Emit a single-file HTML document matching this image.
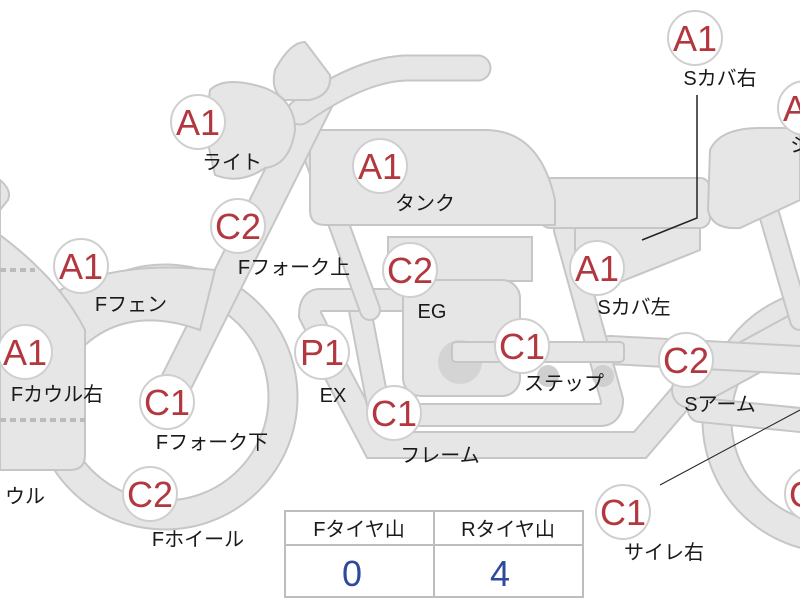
<!DOCTYPE html>
<html><head><meta charset="utf-8"><style>
body{margin:0;background:#fff;}
svg{display:block;font-family:"Liberation Sans","Noto Sans CJK JP",sans-serif;}
.p{fill:#e6e6e6;stroke:#c6c6c6;stroke-width:2;}
.t{stroke:#c6c6c6;stroke-linecap:round;fill:none;}
.ti{stroke:#e6e6e6;stroke-linecap:round;fill:none;}
.c{fill:#fff;stroke:#cfcfcf;stroke-width:2;}
.ct{fill:#b3373f;font-size:36px;text-anchor:middle;}
.l{fill:#1a1a1a;font-size:20px;text-anchor:middle;}
</style></head><body>
<svg width="800" height="600" viewBox="0 0 800 600">
<circle cx="165" cy="397" r="118" fill="none" stroke="#c6c6c6" stroke-width="31"/>
<circle cx="165" cy="397" r="118" fill="none" stroke="#e6e6e6" stroke-width="27"/>
<circle cx="835" cy="420" r="118" fill="none" stroke="#c6c6c6" stroke-width="31"/>
<circle cx="835" cy="420" r="118" fill="none" stroke="#e6e6e6" stroke-width="27"/>
<g>
<path class="t" stroke-width="28" d="M330 360 L375 445 L640 445 L700 375"/>
<path class="ti" stroke-width="24" d="M330 360 L375 445 L640 445 L700 375"/>
<path class="t" stroke-width="38" d="M690 390 L800 330"/>
<path class="ti" stroke-width="34" d="M690 390 L800 330"/>
<path class="t" stroke-width="30" d="M610 350 L800 360"/>
<path class="ti" stroke-width="26" d="M610 350 L800 360"/>
<path class="t" stroke-width="26" d="M700 410 L800 420"/>
<path class="ti" stroke-width="22" d="M700 410 L800 420"/>
<path class="t" stroke-width="24" d="M360 310 L380 415 L600 415 Q612 415 612 400 L565 230"/>
<path class="ti" stroke-width="20" d="M360 310 L380 415 L600 415 Q612 415 612 400 L565 230"/>
<path class="t" stroke-width="24" d="M400 300 L320 300 Q310 300 310 315 L330 355"/>
<path class="ti" stroke-width="20" d="M400 300 L320 300 Q310 300 310 315 L330 355"/>
<path class="t" stroke-width="22" d="M310 145 L370 310"/>
<path class="ti" stroke-width="18" d="M310 145 L370 310"/>
<path class="t" stroke-width="22" d="M765 200 L800 320"/>
<path class="ti" stroke-width="18" d="M765 200 L800 320"/>
</g>
<rect class="p" x="388" y="237" width="144" height="44"/>
<rect class="p" x="403" y="280" width="117" height="116" rx="18"/>
<circle cx="460" cy="362" r="22" fill="#d4d4d4"/>
<rect class="p" x="452" y="342" width="172" height="20" rx="4"/>
<circle cx="548" cy="376" r="11" fill="#cfcfcf"/>
<circle cx="603" cy="376" r="11" fill="#cfcfcf"/>
<path class="p" d="M575 228 L700 228 L700 250 L620 282 L575 282 Z"/>
<rect class="p" x="540" y="178" width="170" height="50" rx="10"/>
<path class="p" d="M710 150 Q720 128 760 128 L800 128 L800 200 L740 228 Q712 230 708 210 Z"/>
<path class="p" d="M310 130 L485 130 Q540 130 555 200 L555 225 L325 225 Q310 225 310 210 Z"/>
<path class="t" stroke-width="34" d="M170 395 L320 95"/>
<path class="ti" stroke-width="30" d="M170 395 L320 95"/>
<path class="t" stroke-width="27" d="M300 112 Q360 70 405 68 L478 68"/>
<path class="ti" stroke-width="23" d="M300 112 Q360 70 405 68 L478 68"/>
<path class="p" d="M275 70 Q290 42 305 42 L330 75 Q332 95 310 100 L285 100 Q270 92 275 70 Z"/>
<path class="p" d="M210 90 Q225 75 265 88 Q295 100 295 130 Q290 165 265 168 Q240 185 215 175 L205 130 Z"/>
<path class="p" d="M60 290 Q120 260 215 270 L200 330 Q130 305 85 345 Z"/>
<path class="p" d="M0 180 Q12 190 8 200 L0 210 L0 235 Q60 280 85 330 L85 455 Q85 470 70 470 L0 470 Z"/>
<line x1="0" y1="270" x2="35" y2="270" stroke="#bbb" stroke-width="4" stroke-dasharray="6 4"/>
<line x1="0" y1="420" x2="85" y2="420" stroke="#bbb" stroke-width="4" stroke-dasharray="6 4"/>
<path d="M697 95 L697 218 L642 240" stroke="#222" stroke-width="1.5" fill="none"/>
<line x1="660" y1="485" x2="800" y2="410" stroke="#222" stroke-width="1"/>
<g>
<circle class="c" cx="198" cy="122" r="27"/><text class="ct" x="198" y="135">A1</text>
<circle class="c" cx="380" cy="166" r="27"/><text class="ct" x="380" y="179">A1</text>
<circle class="c" cx="238" cy="226" r="27"/><text class="ct" x="238" y="239">C2</text>
<circle class="c" cx="695" cy="38" r="27"/><text class="ct" x="695" y="51">A1</text>
<circle class="c" cx="805" cy="108" r="27"/><text class="ct" x="805" y="121">A1</text>
<circle class="c" cx="81" cy="266" r="27"/><text class="ct" x="81" y="279">A1</text>
<circle class="c" cx="410" cy="270" r="27"/><text class="ct" x="410" y="283">C2</text>
<circle class="c" cx="597" cy="268" r="27"/><text class="ct" x="597" y="281">A1</text>
<circle class="c" cx="25" cy="352" r="27"/><text class="ct" x="25" y="365">A1</text>
<circle class="c" cx="167" cy="402" r="27"/><text class="ct" x="167" y="415">C1</text>
<circle class="c" cx="322" cy="352" r="27"/><text class="ct" x="322" y="365">P1</text>
<circle class="c" cx="522" cy="346" r="27"/><text class="ct" x="522" y="359">C1</text>
<circle class="c" cx="394" cy="413" r="27"/><text class="ct" x="394" y="426">C1</text>
<circle class="c" cx="686" cy="360" r="27"/><text class="ct" x="686" y="373">C2</text>
<circle class="c" cx="150" cy="494" r="27"/><text class="ct" x="150" y="507">C2</text>
<circle class="c" cx="623" cy="512" r="27"/><text class="ct" x="623" y="525">C1</text>
<circle class="c" cx="812" cy="494" r="27"/><text class="ct" x="812" y="507">C1</text>
</g>
<g>
<text class="l" x="232" y="169">ライト</text>
<text class="l" x="425" y="210">タンク</text>
<text class="l" x="294" y="274">Fフォーク上</text>
<text class="l" x="720" y="85">Sカバ右</text>
<text class="l" x="800" y="152">シ</text>
<text class="l" x="131" y="311">Fフェン</text>
<text class="l" x="432" y="318">EG</text>
<text class="l" x="634" y="314">Sカバ左</text>
<text class="l" x="57" y="401">Fカウル右</text>
<text class="l" x="212" y="449">Fフォーク下</text>
<text class="l" x="333" y="402">EX</text>
<text class="l" x="564" y="390">ステップ</text>
<text class="l" x="440" y="462">フレーム</text>
<text class="l" x="720" y="411">Sアーム</text>
<text class="l" x="198" y="546">Fホイール</text>
<text class="l" x="664" y="559">サイレ右</text>
<text class="l" x="25" y="503">ウル</text>
</g>
<rect x="285" y="511" width="298" height="86" fill="#fff" stroke="#bdbdbd" stroke-width="2"/>
<line x1="285" y1="545" x2="583" y2="545" stroke="#bdbdbd" stroke-width="2"/>
<line x1="434" y1="511" x2="434" y2="597" stroke="#bdbdbd" stroke-width="2"/>
<text class="l" x="359" y="536">Fタイヤ山</text>
<text class="l" x="508" y="536">Rタイヤ山</text>
<text x="352" y="586" fill="#2f4a9a" font-size="36" text-anchor="middle">0</text>
<text x="500" y="586" fill="#2f4a9a" font-size="36" text-anchor="middle">4</text>
</svg>
</body></html>
